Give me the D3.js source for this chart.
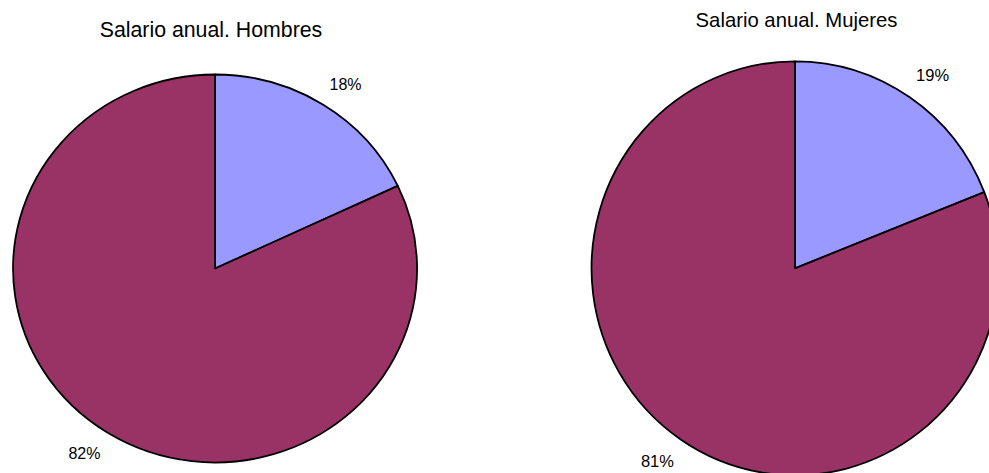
<!DOCTYPE html>
<html>
<head>
<meta charset="utf-8">
<script src="https://cdn.jsdelivr.net/npm/d3@7"></script>
<style>
  html, body { margin: 0; padding: 0; background: #fff; }
  svg { display: block; }
  text { font-family: "Liberation Sans", Arial, sans-serif; fill: #000; }
</style>
</head>
<body>
<svg id="chart" width="989" height="473"></svg>
<script>
// ---- data ----
const categories = ["Grupo A", "Grupo B"];
const hombresValues = [18, 82];
const mujeresValues = [19, 81];
const titles = ["Salario anual. Hombres", "Salario anual. Mujeres"];
const colors = ["#9999FF", "#993366"];

// ---- layout ----
const panels = [
  { title: titles[0], values: hombresValues, cx: 215, cy: 268.5, rx: 202, ry: 194, titleX: 211, titleY: 37.3, titleSize: 21.3, labelSize: 16 },
  { title: titles[1], values: mujeresValues, cx: 795, cy: 268.3, rx: 203.5, ry: 207, titleX: 796.5, titleY: 26.7, titleSize: 20.3, labelSize: 16.5 }
];

const svg = d3.select("#chart");
const pie = d3.pie().sort(null).value(d => d.value).startAngle(0).endAngle(2 * Math.PI);
const arc = d3.arc().innerRadius(0).outerRadius(1);
const labelArc = d3.arc().innerRadius(1.15).outerRadius(1.15);
const labelRot = 1.8 * Math.PI / 180;
const color = d3.scaleOrdinal().domain(categories).range(colors);

panels.forEach(p => {
  const data = categories.map((c, i) => ({ category: c, value: p.values[i] }));
  const arcs = pie(data);
  const total = d3.sum(p.values);

  svg.append("text")
    .attr("x", p.titleX)
    .attr("y", p.titleY)
    .attr("text-anchor", "middle")
    .style("font-size", p.titleSize + "px")
    .text(p.title);

  const g = svg.append("g")
    .attr("transform", `translate(${p.cx},${p.cy}) scale(${p.rx},${p.ry})`);

  g.selectAll("path")
    .data(arcs)
    .join("path")
    .attr("d", arc)
    .attr("fill", d => color(d.data.category))
    .attr("stroke", "#000")
    .attr("stroke-width", 1.8)
    .attr("stroke-linejoin", "round")
    .attr("vector-effect", "non-scaling-stroke");

  const lp = d => labelArc.centroid({ startAngle: d.startAngle + labelRot, endAngle: d.endAngle + labelRot });

  svg.append("g")
    .selectAll("text")
    .data(arcs)
    .join("text")
    .attr("x", d => p.cx + lp(d)[0] * p.rx)
    .attr("y", d => p.cy + lp(d)[1] * p.ry)
    .attr("dy", "0.35em")
    .attr("text-anchor", "middle")
    .style("font-size", p.labelSize + "px")
    .text(d => Math.round(d.data.value / total * 100) + "%");
});
</script>
</body>
</html>
